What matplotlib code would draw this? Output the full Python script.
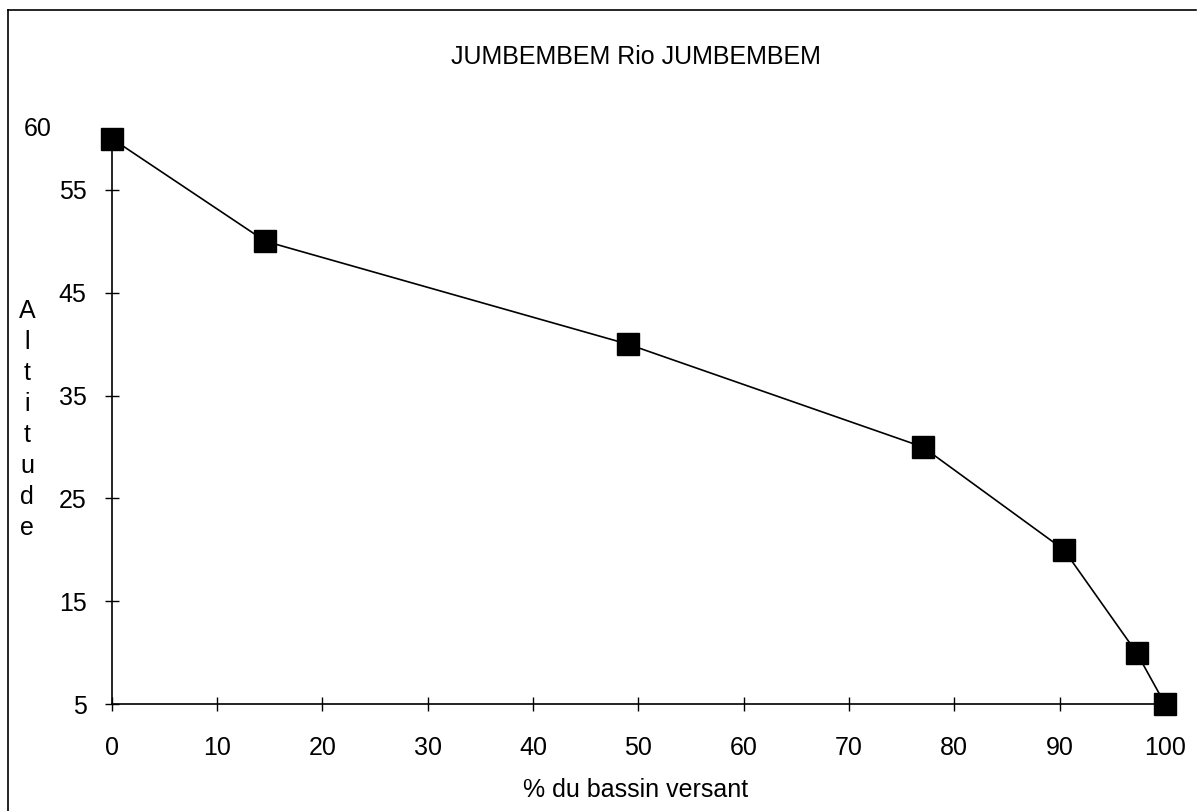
import matplotlib
matplotlib.use("Agg")
import matplotlib.pyplot as plt
from matplotlib.lines import Line2D

# data
pct_bassin = [0, 14.6, 49.0, 77.0, 90.4, 97.3, 100]
altitude = [60, 50, 40, 30, 20, 10, 5]
x_ticks = [0, 10, 20, 30, 40, 50, 60, 70, 80, 90, 100]
y_ticks = [5, 15, 25, 35, 45, 55]

title = "JUMBEMBEM Rio JUMBEMBEM"
x_label = "% du bassin versant"
y_label = "Altitude"


def main():
    plt.rcParams['font.family'] = ['Liberation Sans', 'DejaVu Sans']
    W, H = 1199, 811
    fig = plt.figure(figsize=(W / 100, H / 100), dpi=100)

    left, right = 111.7 / W, 1165 / W
    bottom, top = 1 - 704 / H, 1 - 138.5 / H
    ax = fig.add_axes([left, bottom, right - left, top - bottom])

    ax.plot(pct_bassin, altitude, color='black', lw=1.2, marker='s',
            markersize=15.5, markerfacecolor='black', markeredgecolor='black',
            clip_on=False, zorder=3)

    ax.set_xlim(0, 100)
    ax.set_ylim(5, 60)
    ax.set_xticks(x_ticks)
    ax.set_yticks(y_ticks)
    ax.tick_params(axis='both', direction='inout', length=10, width=1,
                   labelsize=18)
    ax.tick_params(axis='x', pad=18)
    ax.tick_params(axis='y', pad=13)
    for s in ['top', 'right']:
        ax.spines[s].set_visible(False)
    for s in ['left', 'bottom']:
        ax.spines[s].set_linewidth(1.2)

    # the top value label sits apart from the other tick labels
    ax.annotate("60", xy=(0, 60), xycoords='data', xytext=(-60, 9),
                textcoords='offset pixels', ha='right', va='center',
                fontsize=18)

    fig.text(636 / W, 1 - 57 / H, title, ha='center', va='center', fontsize=18)
    fig.text(636 / W, 1 - 790 / H, x_label, ha='center', va='center', fontsize=18)
    for i, ch in enumerate(y_label):
        fig.text(27 / W, 1 - (311 + 31 * i) / H, ch, ha='center', va='center',
                 fontsize=18)

    # frame lines of the scanned page
    fig.add_artist(Line2D([8 / W, 1196 / W], [1 - 10 / H, 1 - 10 / H],
                          transform=fig.transFigure, color='black', lw=1.2))
    fig.add_artist(Line2D([8 / W, 8 / W], [0, 1 - 10 / H],
                          transform=fig.transFigure, color='black', lw=1.2))

    fig.savefig("out.png", dpi=100)


if __name__ == "__main__":
    main()
